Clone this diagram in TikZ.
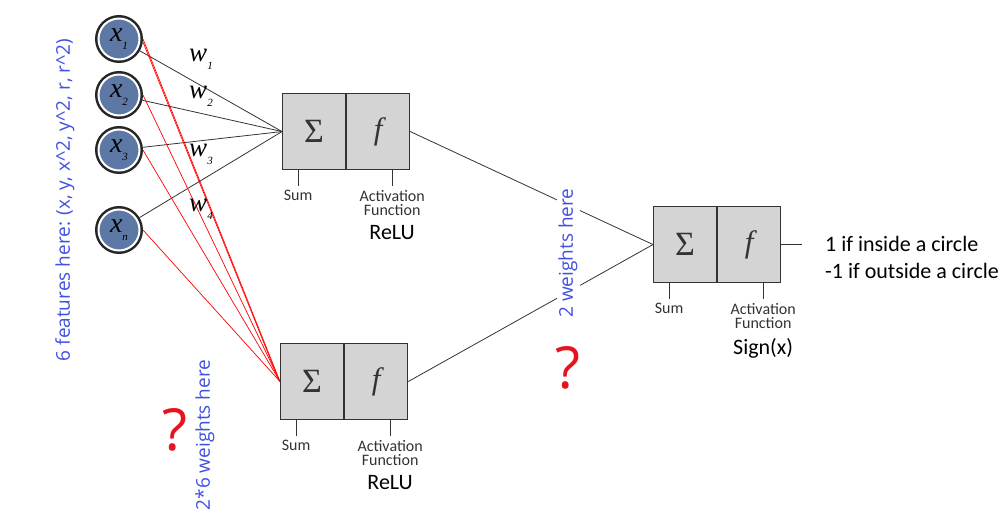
\documentclass[tikz,border=0pt]{standalone}
\usepackage{fontspec}
\setmainfont{Carlito}
\newfontfamily\bluefont{Open Sans}
\newfontfamily\wfont{Liberation Serif}
\usetikzlibrary{calc}
\definecolor{nodeblue}{HTML}{5E78A6}
\definecolor{boxgray}{HTML}{D4D4D4}
\definecolor{txtblue}{HTML}{4150E0}
\definecolor{qred}{HTML}{E6141E}
\definecolor{dk}{HTML}{333333}
\newcommand{\fs}[1]{\fontsize{#1}{#1}\selectfont}
\newcommand{\ivar}[3]{{\wfont\itshape\fs{#3}#1\raisebox{-0.3em}{\fs{11}#2}}}
\begin{document}
\begin{tikzpicture}[x=1pt,y=-1pt,
  feat/.style={circle, inner sep=0pt, minimum size=41pt, fill=nodeblue, draw=white, line width=2pt,
    preaction={draw=black!85, line width=7pt}, outer sep=3.5pt},
  half/.style={rectangle, draw=dk, line width=1.1pt, fill=boxgray, minimum width=63pt, minimum height=76pt, inner sep=0pt, text=dk},
  tick/.style={draw=dk, line width=0.9pt},
  lbl/.style={text=dk, font={\fontsize{16}{14.5}\selectfont}, align=center, inner sep=0pt},
  act/.style={text=black, font=\fs{22}, inner sep=0pt},
  blue/.style={text=txtblue, font=\bluefont\fs{19}, rotate=90, inner sep=2pt},
  qmark/.style={text=qred, font=\bluefont\fs{58}, inner sep=0pt},
  conn/.style={draw=black!80, line width=0.8pt},
  rconn/.style={draw=red, line width=0.7pt},
  wl/.style={inner sep=0pt}
]
\path[use as bounding box] (0,0) rectangle (1005,519);

% input features
\node[feat] (x1) at (119,39) {\ivar{x}{1}{28}};
\node[feat] (x2) at (119,95) {\ivar{x}{2}{28}};
\node[feat] (x3) at (119,150) {\ivar{x}{3}{28}};
\node[feat] (xn) at (119,230) {\ivar{x}{n}{28}};

% neuron 1
\node[half, anchor=north west] (s1) at (282,93) {{\wfont\fs{34}Σ}};
\node[half, anchor=north west] (f1) at (s1.north east) {{\wfont\itshape\fs{31}f}};
% neuron 2
\node[half, anchor=north west] (s2) at (280,343) {{\wfont\fs{34}Σ}};
\node[half, anchor=north west] (f2) at (s2.north east) {{\wfont\itshape\fs{31}f}};
% neuron 3
\node[half, anchor=north west] (s3) at (653,206) {{\wfont\fs{34}Σ}};
\node[half, anchor=north west] (f3) at (s3.north east) {{\wfont\itshape\fs{31}f}};

% ticks and labels
\foreach \n in {1,2,3}{
  \coordinate (ts\n) at ($(s\n.south)+(-16,0)$);
  \coordinate (tf\n) at ($(f\n.south)+(14,0)$);
  \draw[tick] (ts\n) -- ++(0,16) coordinate (tse\n);
  \draw[tick] (tf\n) -- ++(0,16) coordinate (tfe\n);
  \node[lbl, anchor=north] (sum\n) at ($(tse\n)+(0,4)$) {Sum};
  \node[lbl, anchor=north] (af\n) at ($(tfe\n)+(0,4)$) {Activation\\Function};
}
\node[act, anchor=north] (relu1) at ($(af1.south)+(0,9)$) {ReLU};
\node[act, anchor=north] (relu2) at ($(af2.south)+(0,9)$) {ReLU};
\node[act, anchor=north] (sign) at ($(af3.south)+(0,9)$) {Sign(x)};

% black input connections
\foreach \i in {x1,x2,x3,xn}{ \draw[conn] (\i) -- (s1.west); }
% red connections
\draw[rconn] (x1.east) -- (s2.west);
\draw[rconn] ($(x1.east)+(0,3)$) -- ($(s2.west)+(-1,-1)$);
\draw[rconn] (x2.east) -- (s2.west);
\draw[rconn] (x3.east) -- (s2.west);
\draw[rconn] (xn.east) -- (s2.west);

% hidden to output
\draw[conn] (f1.east) -- (s3.west);
\draw[conn] (f2.east) -- (s3.west);
\coordinate (oe) at ($(f3.east)+(21,0)$);
\draw[conn] (f3.east) -- (oe);

% weight labels
\node[wl] (w1) at (201,59) {\ivar{w}{1}{27}};
\node[wl] (w2) at (201,96) {\ivar{w}{2}{27}};
\node[wl] (w3) at (201,154) {\ivar{w}{3}{27}};
\node[wl] (w4) at (201,209) {\ivar{w}{4}{27}};

% output text
\node[act, anchor=west] (out1) at (825,244) {1 if inside a circle};
\node[act, anchor=west] (out2) at (825,271) {-1 if outside a circle};

% blue annotations
\node[blue] (feat6) at (65,200) {6 features here: (x, y, x\^{}2, y\^{}2, r, r\^{}2)};
\node[blue] (w26) at (205,435) {2*6 weights here};
\node[blue, fill=white] (w2h) at (568,253) {2 weights here};

% question marks
\node[qmark] (q1) at (175,430) {?};
\node[qmark] (q2) at (568,368) {?};
\end{tikzpicture}
\end{document}
